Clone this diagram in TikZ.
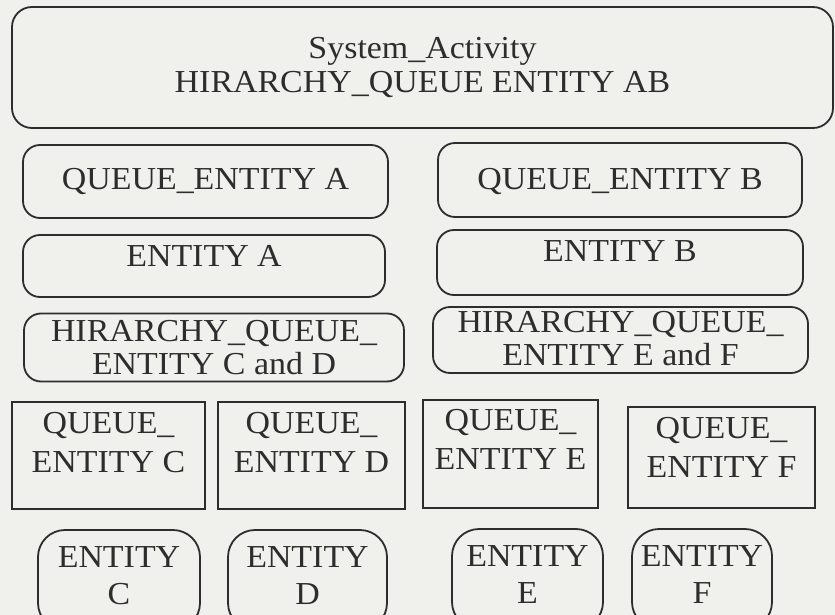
\documentclass[tikz,border=0pt]{standalone}
\usepackage{fontspec}
\setmainfont{Liberation Serif}[FakeStretch=1.06]

\definecolor{paper}{RGB}{240,240,237}
\definecolor{ink}{RGB}{45,45,45}

\begin{document}
\begin{tikzpicture}[x=1pt, y=-1pt,
  roundbox/.style={rectangle, draw=ink, line width=1.8pt, rounded corners=17pt, inner sep=0pt, align=center, text=ink, font=\fontsize{32}{33}\selectfont},
  squarebox/.style={roundbox, rounded corners=0pt, font=\fontsize{32}{39}\selectfont},
  entitybox/.style={roundbox, rounded corners=27pt, font=\fontsize{32}{37}\selectfont},
  lift/.style={text depth=#1}
]

% Page
\clip (0,0) rectangle (835,615);
\fill[paper] (0,0) rectangle (835,615);

% Top activity
\node[roundbox, rounded corners=20pt, minimum width=821pt, minimum height=121pt, font=\fontsize{32}{34}\selectfont] (activity) at (422.5,67.5) {System\_Activity\\HIRARCHY\_QUEUE ENTITY AB};

% Entities A and B
\node[roundbox, minimum width=365pt, minimum height=73pt] (queueA) at (205.5,181.5) {QUEUE\_ENTITY A};
\node[roundbox, minimum width=364pt, minimum height=74pt, lift=3pt] (queueB) at (620,180) {QUEUE\_ENTITY B};
\node[roundbox, minimum width=362pt, minimum height=62pt, lift=20pt] (entityA) at (204,266) {ENTITY A};
\node[roundbox, minimum width=366pt, minimum height=65pt, lift=22pt] (entityB) at (620,262.5) {ENTITY B};

% Hierarchy queues
\node[roundbox, minimum width=380pt, minimum height=68pt] (hierCD) at (214,347.5) {HIRARCHY\_QUEUE\_\\ENTITY C and D};
\node[roundbox, minimum width=375pt, minimum height=66pt, lift=4pt] (hierEF) at (620.5,340) {HIRARCHY\_QUEUE\_\\ENTITY E and F};

% Queues C to F
\node[squarebox, minimum width=193pt, minimum height=107pt, lift=27pt] (queueC) at (108.5,455.5) {QUEUE\_\\ENTITY C};
\node[squarebox, minimum width=187pt, minimum height=107pt, lift=27pt] (queueD) at (311.5,455.5) {QUEUE\_\\ENTITY D};
\node[squarebox, minimum width=175pt, minimum height=108pt, lift=30pt] (queueE) at (510.5,454) {QUEUE\_\\ENTITY E};
\node[squarebox, minimum width=187pt, minimum height=101pt, lift=20pt] (queueF) at (721.5,457.5) {QUEUE\_\\ENTITY F};

% Entities C to F
\node[entitybox, minimum width=162pt, minimum height=100pt, lift=8pt] (entityC) at (119,580) {ENTITY\\C};
\node[entitybox, minimum width=159pt, minimum height=100pt, lift=8pt] (entityD) at (307.5,580) {ENTITY\\D};
\node[entitybox, minimum width=151pt, minimum height=100pt, lift=8pt] (entityE) at (527.5,579) {ENTITY\\E};
\node[entitybox, minimum width=140pt, minimum height=100pt, lift=8pt] (entityF) at (702,579) {ENTITY\\F};

\end{tikzpicture}
\end{document}
